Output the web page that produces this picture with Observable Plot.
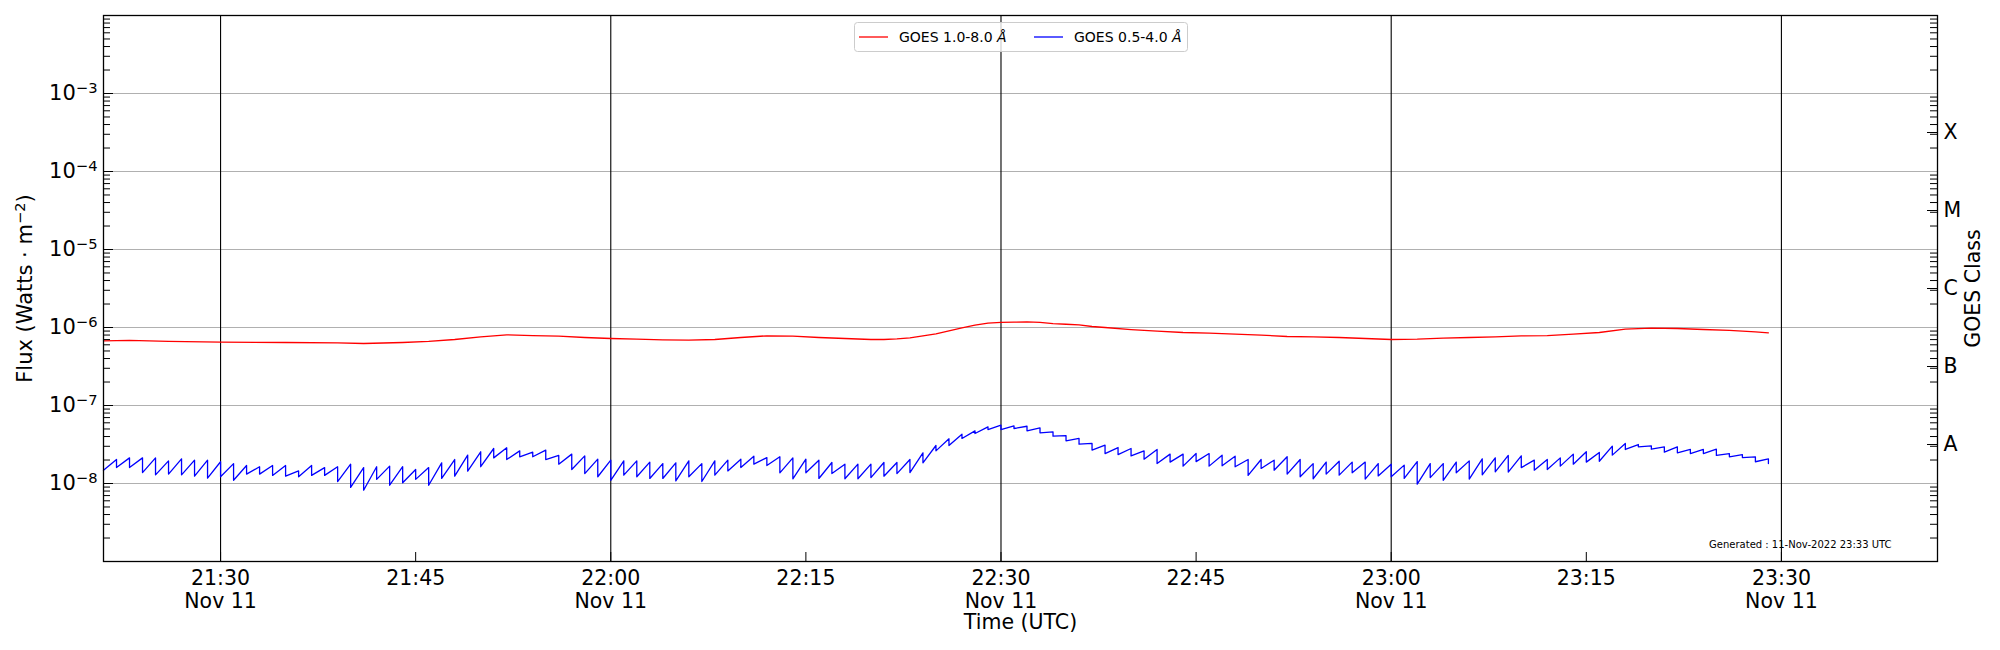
<!DOCTYPE html>
<html>
<head>
<meta charset="utf-8">
<script src="https://cdn.jsdelivr.net/npm/d3@7"></script>
<script src="https://cdn.jsdelivr.net/npm/@observablehq/plot@0.6"></script>
<style>
  body { margin: 0; background: #fff; }
  #chart { position: relative; width: 2000px; height: 650px; }
</style>
</head>
<body>
<div id="chart"></div>
<script>
// ---------- data (minutes after 2022-11-11 21:00 UTC) ----------
const startUTC = Date.UTC(2022, 10, 11, 21, 0);

// GOES 0.5-4.0 Å : one sawtooth per minute, value at start of minute (low) and end (high)
const blueStartMinute = 21;
const blueLow = [
  1.48e-8, 1.60e-8, 1.60e-8, 1.38e-8, 1.29e-8, 1.32e-8, 1.29e-8, 1.24e-8, 1.17e-8, 1.22e-8,
  1.10e-8, 1.32e-8, 1.32e-8, 1.27e-8, 1.24e-8, 1.22e-8, 1.27e-8, 1.27e-8, 1.06e-8, 0.89e-8,
  0.82e-8, 1.13e-8, 0.95e-8, 1.02e-8, 1.13e-8, 0.95e-8, 1.16e-8, 1.24e-8, 1.44e-8, 1.64e-8,
  2.13e-8, 2.03e-8, 2.20e-8, 2.20e-8, 2.03e-8, 1.77e-8, 1.51e-8, 1.34e-8, 1.22e-8, 1.10e-8,
  1.28e-8, 1.22e-8, 1.16e-8, 1.16e-8, 1.08e-8, 1.22e-8, 1.06e-8, 1.28e-8, 1.45e-8, 1.60e-8,
  1.77e-8, 1.70e-8, 1.37e-8, 1.15e-8, 1.37e-8, 1.16e-8, 1.34e-8, 1.15e-8, 1.15e-8, 1.19e-8,
  1.24e-8, 1.34e-8, 1.38e-8, 1.84e-8, 2.62e-8, 3.07e-8, 3.78e-8, 4.37e-8, 4.92e-8, 4.92e-8,
  5.07e-8, 4.73e-8, 4.46e-8, 4.04e-8, 3.52e-8, 3.19e-8, 2.68e-8, 2.42e-8, 2.35e-8, 2.26e-8,
  2.05e-8, 1.80e-8, 1.88e-8, 1.67e-8, 1.91e-8, 1.67e-8, 1.69e-8, 1.64e-8, 1.27e-8, 1.56e-8,
  1.48e-8, 1.32e-8, 1.22e-8, 1.15e-8, 1.32e-8, 1.28e-8, 1.37e-8, 1.14e-8, 1.25e-8, 1.22e-8,
  1.16e-8, 0.98e-8, 1.19e-8, 1.10e-8, 1.37e-8, 1.14e-8, 1.29e-8, 1.41e-8, 1.40e-8, 1.60e-8,
  1.48e-8, 1.51e-8, 1.67e-8, 1.77e-8, 1.88e-8, 1.93e-8, 2.31e-8, 2.73e-8, 2.95e-8, 2.75e-8,
  2.52e-8, 2.47e-8, 2.42e-8, 2.42e-8, 2.29e-8, 2.20e-8, 2.15e-8, 1.90e-8
];
const blueHigh = [
  2.03e-8, 2.13e-8, 2.13e-8, 2.13e-8, 1.95e-8, 2.07e-8, 1.99e-8, 1.99e-8, 1.90e-8, 1.80e-8,
  1.70e-8, 1.64e-8, 1.70e-8, 1.70e-8, 1.45e-8, 1.70e-8, 1.60e-8, 1.64e-8, 1.77e-8, 1.60e-8,
  1.64e-8, 1.67e-8, 1.64e-8, 1.51e-8, 1.60e-8, 1.84e-8, 2.03e-8, 2.31e-8, 2.55e-8, 2.81e-8,
  2.87e-8, 2.62e-8, 2.52e-8, 2.68e-8, 2.29e-8, 2.38e-8, 2.26e-8, 2.05e-8, 1.99e-8, 1.95e-8,
  1.95e-8, 1.88e-8, 1.80e-8, 1.84e-8, 1.95e-8, 1.80e-8, 1.95e-8, 1.99e-8, 2.05e-8, 2.24e-8,
  2.15e-8, 2.20e-8, 2.13e-8, 2.05e-8, 1.99e-8, 1.86e-8, 1.77e-8, 1.77e-8, 1.77e-8, 1.86e-8,
  1.86e-8, 2.03e-8, 2.47e-8, 3.07e-8, 3.74e-8, 4.29e-8, 4.73e-8, 5.33e-8, 5.59e-8, 5.48e-8,
  5.42e-8, 5.17e-8, 4.59e-8, 4.12e-8, 3.78e-8, 3.26e-8, 3.10e-8, 2.89e-8, 2.81e-8, 2.62e-8,
  2.73e-8, 2.38e-8, 2.38e-8, 2.42e-8, 2.42e-8, 2.31e-8, 2.24e-8, 2.03e-8, 2.03e-8, 1.99e-8,
  2.20e-8, 2.03e-8, 1.80e-8, 1.88e-8, 1.93e-8, 1.88e-8, 1.88e-8, 1.80e-8, 1.77e-8, 1.72e-8,
  1.91e-8, 1.80e-8, 1.80e-8, 1.88e-8, 1.95e-8, 2.07e-8, 2.13e-8, 2.29e-8, 2.26e-8, 1.99e-8,
  2.03e-8, 2.13e-8, 2.38e-8, 2.55e-8, 2.50e-8, 3.01e-8, 3.26e-8, 3.16e-8, 3.04e-8, 2.95e-8,
  2.95e-8, 2.73e-8, 2.73e-8, 2.75e-8, 2.42e-8, 2.35e-8, 2.20e-8, 2.07e-8
];
const blueLast = 1.80e-8;

// GOES 1.0-8.0 Å
const redMinute = [21, 23, 26, 30, 35, 39, 41, 44, 46, 48, 50, 52, 54, 56, 58, 60, 62, 64, 66, 68,
  70, 72, 74, 76, 78, 80, 81, 82, 83, 84, 85, 86, 87, 88, 89, 90, 91, 92, 93, 94,
  95, 96, 97, 98, 100, 102, 104, 106, 108, 110, 112, 114, 116, 118, 120, 122, 124, 126, 128, 130,
  132, 134, 136, 138, 140, 142, 144, 146, 148, 149];
const redFlux = [6.75e-7, 6.85e-7, 6.65e-7, 6.49e-7, 6.42e-7, 6.36e-7, 6.24e-7, 6.42e-7, 6.62e-7, 7.02e-7,
  7.59e-7, 8.05e-7, 7.89e-7, 7.74e-7, 7.44e-7, 7.23e-7, 7.08e-7, 6.95e-7, 6.88e-7, 7.02e-7,
  7.44e-7, 7.82e-7, 7.74e-7, 7.44e-7, 7.23e-7, 7.02e-7, 7.02e-7, 7.16e-7, 7.38e-7, 7.82e-7,
  8.30e-7, 9.06e-7, 9.91e-7, 1.07e-6, 1.14e-6, 1.16e-6, 1.17e-6, 1.18e-6, 1.16e-6, 1.12e-6,
  1.10e-6, 1.08e-6, 1.03e-6, 1.00e-6, 9.42e-7, 8.98e-7, 8.63e-7, 8.46e-7, 8.22e-7, 7.98e-7,
  7.67e-7, 7.59e-7, 7.44e-7, 7.23e-7, 7.02e-7, 7.08e-7, 7.30e-7, 7.44e-7, 7.59e-7, 7.82e-7,
  7.89e-7, 8.22e-7, 8.63e-7, 9.53e-7, 9.80e-7, 9.71e-7, 9.42e-7, 9.16e-7, 8.80e-7, 8.55e-7];

// axes / labels
const xDomainMinutes = [21, 162];
const yDomain = [1e-9, 1e-2];
const tickMinutes = [30, 45, 60, 75, 90, 105, 120, 135, 150];
const halfHourMinutes = [30, 60, 90, 120, 150];
const decadeExponents = [-8, -7, -6, -5, -4, -3];
const minorMultipliers = [2, 3, 4, 5, 6, 7, 8, 9];
const minorDecades = [-9, -8, -7, -6, -5, -4, -3];
const classLabels = ["A", "B", "C", "M", "X"];
const classExponents = [-7.5, -6.5, -5.5, -4.5, -3.5];
const legendLabels = ["GOES 1.0-8.0 ", "GOES 0.5-4.0 "];
const legendUnit = "Å";
const legendColors = ["#ff0000", "#0000ff"];
const yLabelBase = "Flux (Watts · m";
const yLabelExp = "−2";
const yLabelEnd = ")";
const xLabel = "Time (UTC)";
const rightLabel = "GOES Class";
const footnote = "Generated : 11-Nov-2022 23:33 UTC";

// ---------- build tables ----------
const toDate = m => new Date(startUTC + m * 60000);
const bluePoints = [];
blueLow.forEach((lo, i) => {
  bluePoints.push({t: toDate(blueStartMinute + i), v: lo});
  bluePoints.push({t: toDate(blueStartMinute + i + 1), v: blueHigh[i]});
});
bluePoints.push({t: toDate(blueStartMinute + blueLow.length), v: blueLast});
const redPoints = redMinute.map((m, i) => ({t: toDate(m), v: redFlux[i]}));

const decadeValues = decadeExponents.map(e => Math.pow(10, e));
const minorValues = minorDecades.flatMap(e => minorMultipliers.map(k => k * Math.pow(10, e)));
const classValues = classExponents.map(e => Math.pow(10, e));
const tickDates = tickMinutes.map(toDate);
const halfHourDates = halfHourMinutes.map(toDate);

const fmtHM = d3.utcFormat("%H:%M");
const fmtDay = d3.utcFormat("%b %d");
const xTickFormat = d => halfHourDates.some(h => +h === +d) ? fmtHM(d) + "\n" + fmtDay(d) : fmtHM(d);
const yTickFormat = d => "10^" + Math.round(Math.log10(d));

// ---------- layout ----------
const W = 2000, H = 650, mL = 103, mR = 63, mT = 15, mB = 89;
const innerW = W - mL - mR, innerH = H - mT - mB;
const font = "DejaVu Sans";

const chart = Plot.plot({
  width: W, height: H,
  marginLeft: mL, marginRight: mR, marginTop: mT, marginBottom: mB,
  style: {fontFamily: font, fontSize: "20px", color: "black", background: "white"},
  x: {type: "utc", domain: xDomainMinutes.map(toDate)},
  y: {type: "log", domain: yDomain},
  marks: [
    Plot.ruleY(decadeValues, {stroke: "#b0b0b0", strokeWidth: 1}),
    Plot.ruleX(halfHourDates, {stroke: "black", strokeWidth: 1.1}),
    Plot.line(redPoints, {x: "t", y: "v", stroke: "#ff0000", strokeWidth: 1.3}),
    Plot.line(bluePoints, {x: "t", y: "v", stroke: "#0000ff", strokeWidth: 1.3}),
    // inward ticks, left
    Plot.tickY(minorValues, {insetRight: innerW - 7, stroke: "black", strokeWidth: 1}),
    Plot.tickY(decadeValues, {insetRight: innerW - 10, stroke: "black", strokeWidth: 1}),
    // inward ticks, right
    Plot.tickY(minorValues, {insetLeft: innerW - 7, stroke: "black", strokeWidth: 1}),
    Plot.tickY(classValues, {insetLeft: innerW - 10, stroke: "black", strokeWidth: 1}),
    // inward ticks, bottom
    Plot.tickX(tickDates, {insetTop: innerH - 9, stroke: "black", strokeWidth: 1}),
    Plot.frame({stroke: "black", strokeWidth: 1.3}),
    Plot.axisX({ticks: tickDates, tickFormat: xTickFormat, tickSize: 0, tickPadding: 7,
      fontSize: 20.5, lineHeight: 1.12, label: null}),
    Plot.axisY({ticks: decadeValues, tickFormat: yTickFormat, tickSize: 0, tickPadding: 6,
      fontSize: 21, label: null}),
    Plot.text([xLabel], {frameAnchor: "bottom", dy: 67, fontSize: 20.5}),
    Plot.text([yLabelBase], {frameAnchor: "left", textAnchor: "middle", dx: -78, rotate: -90, fontSize: 21}),
    Plot.text(classLabels, {y: (d, i) => classValues[i], frameAnchor: "right", textAnchor: "start", dx: 6, fontSize: 20.5}),
    Plot.text([rightLabel], {frameAnchor: "right", textAnchor: "middle", dx: 36, rotate: -90, fontSize: 20.5}),
    Plot.text([footnote], {frameAnchor: "bottom-right", textAnchor: "end", lineAnchor: "bottom", dx: -46, dy: -14, fontSize: 10})
  ]
});

const svg = d3.select(chart);

// mathtext-like superscripts for the y tick labels and the y label
svg.selectAll("text").each(function () {
  const el = d3.select(this);
  const s = el.text();
  const m = /^10\^(-?\d+)$/.exec(s);
  if (m) {
    el.text(null);
    el.append("tspan").text("10");
    el.append("tspan").attr("font-size", "0.7em").attr("dy", "-0.5em")
      .text(m[1].replace("-", "−"));
  } else if (s === yLabelBase) {
    el.text(null);
    el.append("tspan").text(yLabelBase);
    el.append("tspan").attr("font-size", "0.7em").attr("dy", "-0.5em").text(yLabelExp);
    el.append("tspan").attr("dy", "0.35em").text(yLabelEnd);
  }
});

// ---------- legend (upper centre, inside the frame) ----------
const lg = svg.append("g").attr("font-family", font).attr("font-size", 14).attr("text-anchor", "start");
lg.append("rect").attr("x", 854.5).attr("y", 22.5).attr("width", 333).attr("height", 29).attr("rx", 3)
  .attr("fill", "white").attr("fill-opacity", 0.8).attr("stroke", "#cccccc");
const itemX = [859, 1034];
legendLabels.forEach((lab, i) => {
  lg.append("line").attr("x1", itemX[i]).attr("x2", itemX[i] + 29).attr("y1", 37).attr("y2", 37)
    .attr("stroke", legendColors[i]).attr("stroke-width", 1.3);
  const t = lg.append("text").attr("x", itemX[i] + 40).attr("y", 42).attr("fill", "black")
    .attr("text-anchor", "start");
  t.append("tspan").text(lab);
  t.append("tspan").attr("font-style", "italic").text(legendUnit);
});

document.getElementById("chart").appendChild(chart);
</script>
</body>
</html>
